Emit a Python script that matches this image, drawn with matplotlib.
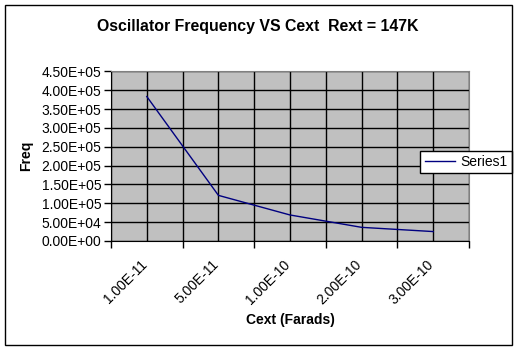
import matplotlib.pyplot as plt
from matplotlib.ticker import FuncFormatter, MultipleLocator
from matplotlib.patches import Rectangle
from matplotlib.transforms import ScaledTranslation

plt.rcParams['font.family'] = ['Liberation Sans', 'DejaVu Sans']

# Data
cext_labels = ["1.00E-11", "5.00E-11", "1.00E-10", "2.00E-10", "3.00E-10"]
freq = [3.83e5, 1.21e5, 6.9e4, 3.62e4, 2.5e4]

fig = plt.figure(figsize=(5.19, 3.51), dpi=100)
ax = fig.add_axes([0.2139, 0.3134, 0.6898, 0.4835])

x = list(range(len(cext_labels)))
ax.plot(x, freq, color='#000080', linewidth=1, label='Series1')

ax.set_facecolor('#C0C0C0')
ax.set_xlim(-0.5, len(x) - 0.5)
ax.set_ylim(0, 4.5e5)

# y axis
ax.yaxis.set_major_locator(MultipleLocator(5e4))
ax.yaxis.set_major_formatter(FuncFormatter(lambda v, p: f"{v:.2E}"))
ax.tick_params(axis='y', which='major', length=5, width=1, direction='out',
               labelsize=10, pad=2)

# x axis: labels at category centres, tick marks at boundaries
ax.set_xticks(x)
ax.set_xticklabels(cext_labels, rotation=45, ha='right', va='top',
                   rotation_mode='anchor', fontsize=10)
ax.set_xticks([i - 0.5 for i in range(len(x) + 1)], minor=True)
ax.tick_params(axis='x', which='major', length=0, pad=12)
ax.tick_params(axis='x', which='minor', length=5, width=1, direction='out')
shift = ScaledTranslation(-7 / 100, 0, fig.dpi_scale_trans)
for lbl in ax.get_xticklabels():
    lbl.set_transform(lbl.get_transform() + shift)

ax.grid(True, which='both', axis='x', color='black', linewidth=1)
ax.grid(True, which='major', axis='y', color='black', linewidth=1)
ax.set_axisbelow(True)

for s in ['top', 'right']:
    ax.spines[s].set_color('#808080')
for s in ['left', 'bottom']:
    ax.spines[s].set_color('black')

ax.set_xlabel("Cext (Farads)", fontsize=10, fontweight='bold', labelpad=4)
ax.set_ylabel("Freq", fontsize=10, fontweight='bold', labelpad=6)

fig.text(258 / 519, 1 - 26 / 351, "Oscillator Frequency VS Cext  Rext = 147K",
         ha='center', va='center', fontsize=11.4, fontweight='bold')

leg = ax.legend(loc='center right', bbox_to_anchor=(512 / 519, 1 - 162 / 351),
                bbox_transform=fig.transFigure, frameon=True, fancybox=False,
                edgecolor='black', framealpha=1, fontsize=10,
                handlelength=2.2, borderpad=0.3, handletextpad=0.4,
                borderaxespad=0)
leg.get_frame().set_linewidth(1)

# outer chart border
fig.patches.append(Rectangle((5 / 519, 1 - 345 / 351), 507 / 519, 340 / 351,
                             transform=fig.transFigure, fill=False,
                             edgecolor='black', linewidth=1))

fig.savefig("out.png", dpi=100)
